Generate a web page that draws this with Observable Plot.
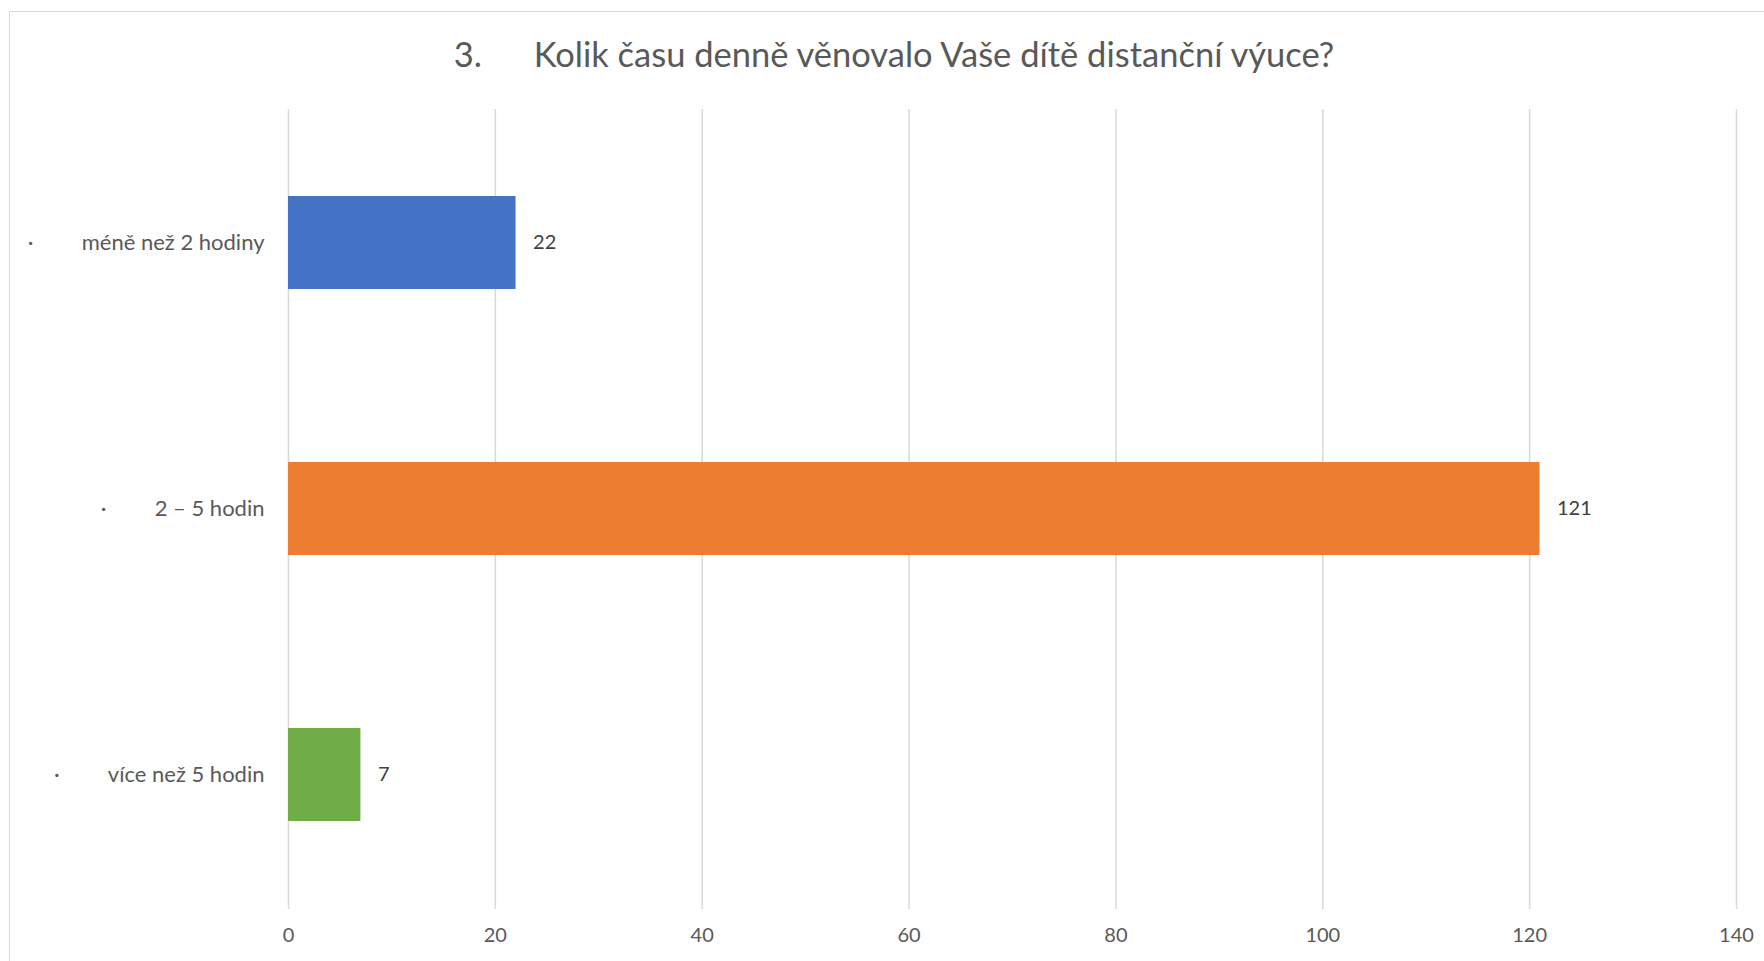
<!DOCTYPE html>
<html>
<head>
<meta charset="utf-8">
<script src="https://cdn.jsdelivr.net/npm/d3@7"></script>
<script src="https://cdn.jsdelivr.net/npm/@observablehq/plot@0.6"></script>
<style>
  html, body { margin: 0; padding: 0; background: #fff; }
  #wrap { position: relative; width: 1764px; height: 961px; overflow: hidden; }
  #frame { position: absolute; left: 9px; top: 11px; width: 1800px; height: 1000px;
           border-left: 1.5px solid #d9d9d9; border-top: 1.5px solid #d9d9d9; box-sizing: border-box; }
  #title { position: absolute; left: 0; top: 33px; width: 1764px; padding-left: 24px; box-sizing: border-box;
           text-align: center; font-family: Lato, "Open Sans", sans-serif; font-weight: 400; font-size: 34.5px;
           color: #595959; white-space: pre; line-height: 1.2; }
  #chart { position: absolute; left: 0; top: 0; }
</style>
</head>
<body>
<div id="wrap">
  <div id="frame"></div>
  <div id="chart"></div>
  <div id="title"></div>
</div>
<script>
const titleNumber = "3.";
const titleText = "Kolik času denně věnovalo Vaše dítě distanční výuce?";
const categories = ["méně než 2 hodiny", "2 – 5 hodin", "více než 5 hodin"];
const values = [22, 121, 7];
const colors = ["#4472C4", "#ED7D31", "#70AD47"];
const xTicks = [0, 20, 40, 60, 80, 100, 120, 140];

document.getElementById("title").textContent = titleNumber + "\u2003\u2003" + titleText;

const data = categories.map((c, i) => ({category: c, value: values[i], color: colors[i]}));

const chart = Plot.plot({
  width: 1764,
  height: 961,
  marginLeft: 288,
  marginRight: 28,
  marginTop: 109,
  marginBottom: 52,
  style: {fontFamily: "Lato, 'Open Sans', sans-serif", fontSize: "20px", color: "#595959", background: "transparent"},
  x: {domain: [0, 140], ticks: xTicks},
  y: {domain: categories, paddingInner: 0.65, paddingOuter: 0.325},
  marks: [
    Plot.gridX(xTicks, {stroke: "#d9d9d9", strokeOpacity: 1, strokeWidth: 1.5}),
    Plot.barX(data, {x: "value", y: "category", fill: "color"}),
    Plot.text(data, {x: "value", y: "category", text: d => String(d.value), textAnchor: "start", dx: 17, fill: "#404040", fontSize: 20}),
    Plot.axisX({ticks: xTicks, tickSize: 0, tickPadding: 18, label: null, fontSize: 20, fill: "#595959"}),
    Plot.axisY({tickSize: 0, tickPadding: 24, label: null, fontSize: 22, fill: "#595959",
      tickFormat: d => "·\u2003\u2003\u2002\u2009\u200A" + d})
  ]
});
document.getElementById("chart").appendChild(chart);
</script>
</body>
</html>
